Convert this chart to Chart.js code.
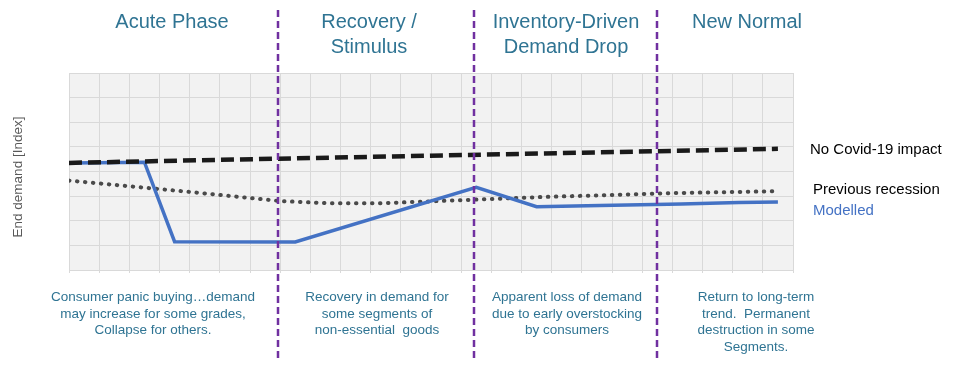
<!DOCTYPE html>
<html>
<head>
<meta charset="utf-8">
<style>
  html, body { margin: 0; padding: 0; background: #ffffff; }
  #wrap { width: 974px; height: 370px; position: relative; }
</style>
<script src="https://cdn.jsdelivr.net/npm/chart.js@4.4.1/dist/chart.umd.min.js"></script>
</head>
<body>
<div id="wrap"><canvas id="demandChart" width="974" height="370"></canvas></div>
<script>
// --- data (x in grid columns 0..24, y in grid rows 0..8) ---
const noCovidX = [0, 23.5];
const noCovidY = [4.35, 4.92];

const prevRecessionX = [0, 4.0, 7.0, 8.65, 10.3, 13.3, 15.6, 19.9, 23.5];
const prevRecessionY = [3.63, 3.17, 2.8, 2.71, 2.71, 2.85, 2.96, 3.12, 3.2];

const modelledX = [0, 2.5, 3.5, 7.5, 13.5, 15.5, 17.6, 20.3, 22.2, 23.5];
const modelledY = [4.35, 4.38, 1.15, 1.14, 3.36, 2.57, 2.62, 2.68, 2.74, 2.76];

// phase boundaries (purple dashed lines), in the same x units
const phaseBounds = [6.93, 13.43, 19.5];

const phaseTitles = [['Acute Phase'], ['Recovery /', 'Stimulus'], ['Inventory-Driven', 'Demand Drop'], ['New Normal']];
const phaseNotes = [
    ['Consumer panic buying\u2026demand', 'may increase for some grades,', 'Collapse for others.'],
    ['Recovery in demand for', 'some segments of', 'non-essential  goods'],
    ['Apparent loss of demand', 'due to early overstocking', 'by consumers'],
    ['Return to long-term', 'trend.  Permanent', 'destruction in some', 'Segments.']
];
const seriesLabels = ['No Covid-19 impact', 'Previous recession', 'Modelled'];

function toPoints(xs, ys) {
    return xs.map((x, i) => ({ x: x, y: ys[i] }));
}

// grey plot background
const plotBackground = {
    id: 'plotBackground',
    beforeDraw(chart) {
        const a = chart.chartArea;
        const ctx = chart.ctx;
        ctx.save();
        ctx.fillStyle = '#f2f2f2';
        ctx.fillRect(a.left, a.top, a.right - a.left, a.bottom - a.top);
        ctx.restore();
    }
};

// phase lines + all the text
const annotations = {
    id: 'annotations',
    afterDraw(chart) {
        const ctx = chart.ctx;
        const xs = chart.scales.x;
        ctx.save();

        // purple dashed separators
        ctx.strokeStyle = '#7030a0';
        ctx.lineWidth = 2.5;
        ctx.setLineDash([7, 4]);
        phaseBounds.forEach(b => {
            const px = Math.round(xs.getPixelForValue(b));
            ctx.beginPath();
            ctx.moveTo(px, 10);
            ctx.lineTo(px, 362);
            ctx.stroke();
        });
        ctx.setLineDash([]);

        // phase titles
        const titleX = [172, 369, 566, 747];
        ctx.fillStyle = '#2f7493';
        ctx.font = '20px "Liberation Sans", Arial, sans-serif';
        ctx.textAlign = 'center';
        ctx.textBaseline = 'middle';
        phaseTitles.forEach((lines, i) => {
            lines.forEach((t, j) => ctx.fillText(t, titleX[i], 22 + j * 25));
        });

        // notes under the plot
        const noteX = [153, 377, 567, 756];
        ctx.font = '13.5px "Liberation Sans", Arial, sans-serif';
        phaseNotes.forEach((lines, i) => {
            lines.forEach((t, j) => ctx.fillText(t, noteX[i], 297.5 + j * 16.5));
        });

        // series labels on the right
        ctx.textAlign = 'left';
        ctx.font = '15px "Liberation Sans", Arial, sans-serif';
        ctx.fillStyle = '#000000';
        ctx.fillText(seriesLabels[0], 810, 150);
        ctx.fillText(seriesLabels[1], 813, 190);
        ctx.fillStyle = '#4472c4';
        ctx.fillText(seriesLabels[2], 813, 211);

        // y axis title
        ctx.translate(18, 177);
        ctx.rotate(-Math.PI / 2);
        ctx.textAlign = 'center';
        ctx.fillStyle = '#595959';
        ctx.font = '13.5px "Liberation Sans", Arial, sans-serif';
        ctx.fillText('End demand [Index]', 0, 0);

        ctx.restore();
    }
};

new Chart(document.getElementById('demandChart'), {
    type: 'line',
    data: {
        datasets: [
            {
                label: seriesLabels[0],
                data: toPoints(noCovidX, noCovidY),
                borderColor: '#1a1a1a',
                borderWidth: 4.5,
                borderDash: [13, 6],
                pointRadius: 0
            },
            {
                label: seriesLabels[2],
                data: toPoints(modelledX, modelledY),
                borderColor: '#4472c4',
                borderWidth: 3.5,
                pointRadius: 0
            },
            {
                label: seriesLabels[1],
                data: toPoints(prevRecessionX, prevRecessionY),
                borderColor: '#4a4a4a',
                borderWidth: 4,
                borderDash: [0.5, 7.5],
                borderCapStyle: 'round',
                pointRadius: 0
            }
        ]
    },
    options: {
        responsive: false,
        animation: false,
        layout: { padding: { left: 69, top: 73, right: 181, bottom: 97 } },
        plugins: { legend: { display: false }, tooltip: { enabled: false } },
        scales: {
            x: {
                type: 'linear',
                min: 0,
                max: 24,
                ticks: { display: false, stepSize: 1 },
                grid: { color: '#d9d9d9', drawTicks: true, tickLength: 3 },
                border: { color: '#d9d9d9' }
            },
            y: {
                type: 'linear',
                min: 0,
                max: 8,
                ticks: { display: false, stepSize: 1 },
                grid: { color: '#d9d9d9', drawTicks: false },
                border: { display: false }
            }
        }
    },
    plugins: [plotBackground, annotations]
});
</script>
</body>
</html>
